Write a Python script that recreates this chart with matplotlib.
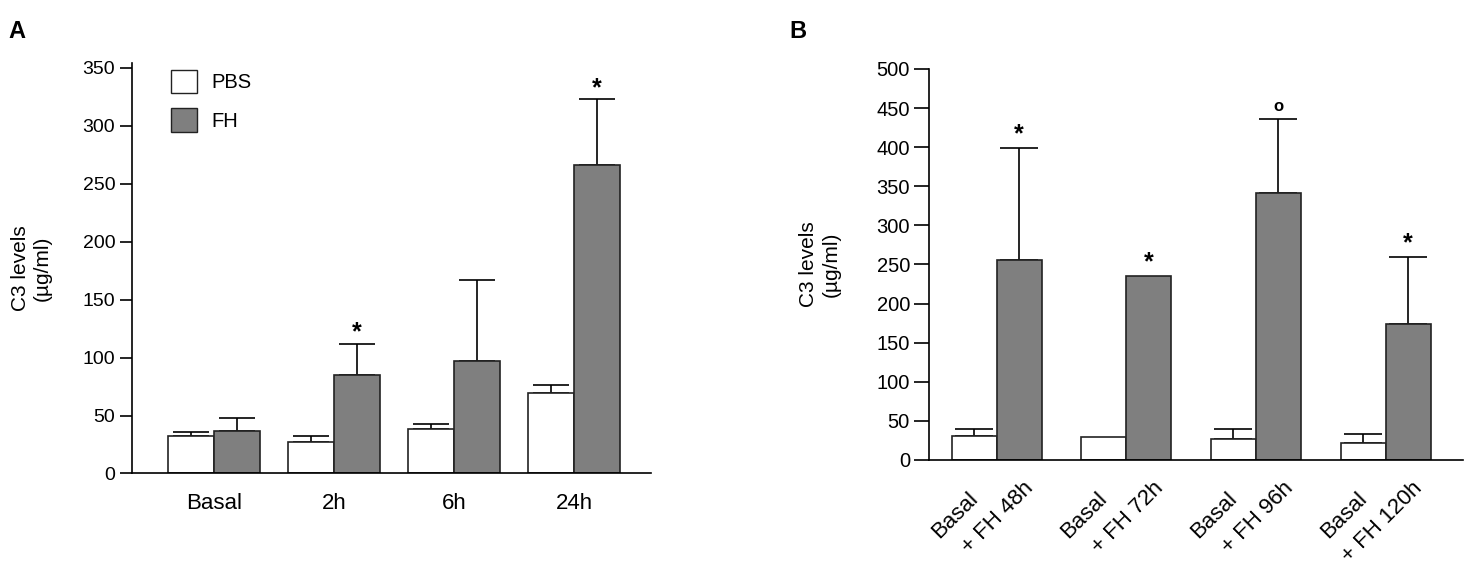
import matplotlib
matplotlib.use("Agg")
import matplotlib.pyplot as plt
import matplotlib.transforms as mtransforms
from matplotlib.patches import Patch
import numpy as np

plt.rcParams['font.family'] = ['Liberation Sans', 'DejaVu Sans']

# Panel A : C3 au cours du temps (PBS vs FH)
a_groups = ['Basal', '2h', '6h', '24h']
a_pbs = [32, 27, 38, 69]
a_pbs_top = [36, 32, 43, 76]      # haut de la barre d'erreur
a_fh = [37, 85, 97, 266]
a_fh_top = [48, 112, 167, 323]
a_marks = ['', '*', '', '*']

# Panel B : basal vs + FH
b_pbs_labels = ['Basal', 'Basal', 'Basal', 'Basal']
b_fh_labels = ['+ FH 48h', '+ FH 72h', '+ FH 96h', '+ FH 120h']
b_pbs = [31, 29, 27, 22]
b_pbs_top = [40, None, 40, 33]
b_fh = [256, 235, 341, 174]
b_fh_top = [399, None, 436, 259]
b_marks = ['*', '*', 'o', '*']

WHITE = 'white'
GREY = '#7f7f7f'
EDGE = '#222222'


def draw_err(ax, x, vals, tops, capsize):
    for xi, v, t in zip(x, vals, tops):
        if t is None:
            continue
        ax.errorbar([xi], [v], yerr=[[0], [t - v]], fmt='none', ecolor='black',
                    elinewidth=1.2, capsize=capsize, capthick=1.2, zorder=1)


def style_axis(ax, ticklen):
    ax.spines['top'].set_visible(False)
    ax.spines['right'].set_visible(False)
    ax.spines['left'].set_linewidth(1.2)
    ax.spines['bottom'].set_linewidth(1.2)
    ax.tick_params(axis='y', direction='out', length=ticklen, width=1.2, labelsize=14, pad=3)
    ax.tick_params(axis='x', length=0)


fig = plt.figure(figsize=(14.7, 5.71), dpi=100)

# ---------------- A ----------------
axA = fig.add_axes([0.0898, 0.1708, 0.3531, 0.7186])
x = np.arange(len(a_groups))
bw = 0.383
axA.bar(x - bw / 2, a_pbs, bw, color=WHITE, edgecolor=EDGE, linewidth=1.2, zorder=2, label='PBS')
axA.bar(x + bw / 2, a_fh, bw, color=GREY, edgecolor=EDGE, linewidth=1.2, zorder=2, label='FH')
draw_err(axA, x - bw / 2, a_pbs, a_pbs_top, 13)
draw_err(axA, x + bw / 2, a_fh, a_fh_top, 13)
for xi, t, m in zip(x + bw / 2, a_fh_top, a_marks):
    if m:
        axA.annotate(m, (xi, t), xytext=(0, 8), textcoords='offset points',
                     ha='center', va='center', fontsize=18, fontweight='bold')
axA.set_xlim(-0.68, 3.64)
axA.set_ylim(0, 354)
axA.set_yticks(range(0, 351, 50))
axA.set_xticks(x)
axA.set_xticklabels(a_groups, fontsize=16)
axA.tick_params(axis='x', pad=14)
style_axis(axA, 9)
axA.set_ylabel('C3 levels\n(µg/ml)', fontsize=15, labelpad=22)
axA.legend(handles=[Patch(facecolor=WHITE, edgecolor=EDGE, label='PBS'),
                    Patch(facecolor=GREY, edgecolor=EDGE, label='FH')],
           loc='upper left', bbox_to_anchor=(0.075, 0.983), frameon=False, fontsize=14.5,
           handlelength=1.3, handleheight=1.4, labelspacing=0.75, handletextpad=0.7,
           borderpad=0, borderaxespad=0)

# ---------------- B ----------------
axB = fig.add_axes([0.6322, 0.1944, 0.3633, 0.6848])
xb = np.arange(len(b_fh_labels))
bwb = 0.347
axB.bar(xb - bwb / 2, b_pbs, bwb, color=WHITE, edgecolor=EDGE, linewidth=1.2, zorder=2)
axB.bar(xb + bwb / 2, b_fh, bwb, color=GREY, edgecolor=EDGE, linewidth=1.2, zorder=2)
draw_err(axB, xb - bwb / 2, b_pbs, b_pbs_top, 14)
draw_err(axB, xb + bwb / 2, b_fh, b_fh_top, 14)
for xi, v, t, m in zip(xb + bwb / 2, b_fh, b_fh_top, b_marks):
    top = v if t is None else t
    if m == 'o':
        axB.annotate(m, (xi, top), xytext=(0, 9), textcoords='offset points',
                     ha='center', va='center', fontsize=12, fontweight='bold')
    else:
        axB.annotate(m, (xi, top), xytext=(0, 10), textcoords='offset points',
                     ha='center', va='center', fontsize=18, fontweight='bold')
axB.set_xlim(-0.52, 3.6)
axB.set_ylim(0, 500)
axB.set_yticks(range(0, 501, 50))
ticks = np.ravel(np.column_stack([xb - bwb / 2, xb + bwb / 2]))
labels = [lab for pair in zip(b_pbs_labels, b_fh_labels) for lab in pair]
axB.set_xticks(ticks)
axB.set_xticklabels(labels, fontsize=16, rotation=45, ha='right', va='top',
                    rotation_mode='anchor')
axB.tick_params(axis='x', pad=0)
style_axis(axB, 11)
axB.tick_params(axis='y', labelsize=14.5)
for i, lab in enumerate(axB.get_xticklabels()):
    if i % 2 == 0:
        off = mtransforms.ScaledTranslation(-7 / 100, -28 / 100, fig.dpi_scale_trans)
    else:
        off = mtransforms.ScaledTranslation(4 / 100, -18 / 100, fig.dpi_scale_trans)
    lab.set_transform(lab.get_transform() + off)
axB.set_ylabel('C3 levels\n(µg/ml)', fontsize=15, labelpad=26)

fig.text(0.006, 0.965, 'A', fontsize=17, fontweight='bold', va='top')
fig.text(0.537, 0.965, 'B', fontsize=17, fontweight='bold', va='top')

fig.savefig('out.png', dpi=100)
